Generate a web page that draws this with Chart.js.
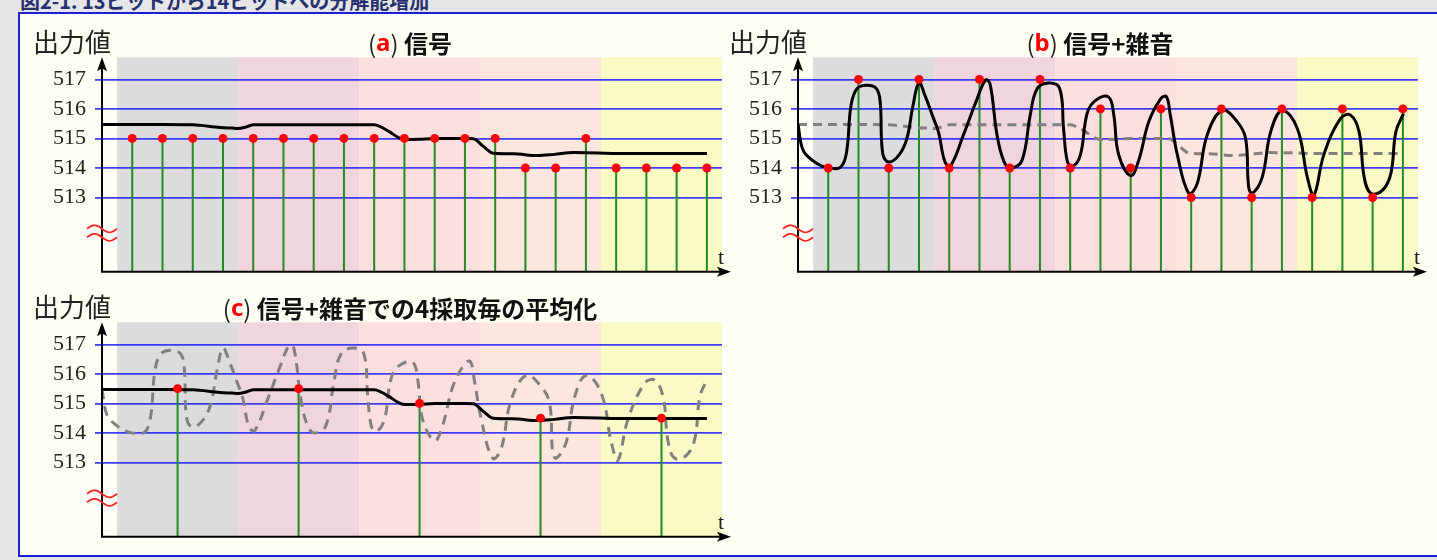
<!DOCTYPE html>
<html>
<head>
<meta charset="utf-8">
<script src="https://cdn.jsdelivr.net/npm/chart.js@4.4.0/dist/chart.umd.min.js"></script>
<style>
html, body { margin: 0; padding: 0; background: #e6e6e6; width: 1437px; height: 560px; overflow: hidden; }
#cap { position: absolute; left: 20px; top: -14px; line-height: 20px; font: bold 20px "Noto Sans CJK JP"; color: #27306e; white-space: nowrap; }
#box { position: absolute; left: 18px; top: 12px; width: 1440px; height: 545px; box-sizing: border-box; border: 2px solid #1e1ed2; background: #fffff5; }
canvas { position: absolute; }
</style>
</head>
<body>
<div id="cap">図2-1. 13ビットから14ビットへの分解能増加</div>
<div id="box"></div>
<canvas id="cA" width="720" height="280" style="left:20px;top:14px"></canvas>
<canvas id="cB" width="720" height="280" style="left:716px;top:14px"></canvas>
<canvas id="cC" width="720" height="280" style="left:20px;top:279px"></canvas>
<script>
// 採取時刻 (サンプル番号)
const sampleT = [0, 1, 2, 3, 4, 5, 6, 7, 8, 9, 10, 11, 12, 13, 14, 15, 16, 17, 18, 19];
// (a) 採取値
const samplesA = [515, 515, 515, 515, 515, 515, 515, 515, 515, 515, 515, 515, 515, 514, 514, 515, 514, 514, 514, 514];
// (b) 信号+雑音の採取値
const samplesB = [514, 517, 514, 517, 514, 517, 514, 517, 514, 516, 514, 516, 513, 516, 513, 516, 513, 516, 513, 516];
// (c) 4採取毎の平均
const avgT = [1.5, 5.5, 9.5, 13.5, 17.5];
const avgV = [515.5, 515.5, 515.0, 514.5, 514.5];

// 信号 (なめらかな線)
const signalT = [-1, 0, 1, 2, 2.9, 3.3, 3.5, 3.7, 3.88, 4, 5, 6, 7, 8, 8.2, 8.5, 8.8, 9.05, 9.5, 10, 11, 11.28, 11.6, 11.94, 12.6, 13.4, 13.96, 14.6, 15.4, 16, 17, 18, 19];
const signalV = [515.47, 515.47, 515.47, 515.46, 515.37, 515.35, 515.34, 515.37, 515.43, 515.46, 515.46, 515.46, 515.46, 515.46, 515.4, 515.23, 515.03, 514.96, 514.97, 515.0, 515.0, 514.99, 514.74, 514.5, 514.48, 514.42, 514.46, 514.52, 514.51, 514.49, 514.49, 514.49, 514.49];

// 信号+雑音 (なめらかな線)
const noiseT = [-1, -0.83, -0.5, -0.2, 0, 0.4, 0.6, 0.75, 0.94, 1.27, 1.6, 1.72, 1.8, 2.0, 2.35, 2.6, 2.8, 3.0, 3.2, 3.48, 3.65, 3.86, 4.05, 4.47, 4.9, 5.2, 5.35, 5.58, 5.8, 6.02, 6.4, 6.68, 6.9, 7.28, 7.65, 7.78, 7.9, 8.06, 8.33, 8.56, 8.83, 9.27, 9.44, 9.6, 10.0, 10.26, 10.6, 10.99, 11.18, 11.31, 11.54, 11.92, 12.2, 12.53, 13.03, 13.52, 13.8, 13.9, 14.02, 14.35, 14.63, 15.01, 15.51, 15.84, 16.06, 16.39, 16.94, 17.27, 17.55, 17.72, 17.94, 18.33, 18.6, 18.77, 19.02];
const noiseV = [515.48, 514.6, 514.24, 514.06, 514.0, 514.02, 514.5, 516.1, 516.67, 516.8, 516.68, 516.2, 514.5, 514.2, 514.45, 515.0, 516.1, 516.88, 516.45, 515.68, 515.2, 514.2, 514.08, 515.12, 516.28, 516.98, 516.85, 515.12, 514.24, 514.0, 514.24, 515.8, 516.67, 516.88, 516.7, 515.34, 514.25, 514.05, 514.42, 515.85, 516.28, 516.4, 515.8, 514.46, 513.74, 514.24, 515.57, 516.34, 516.42, 515.79, 514.46, 513.14, 513.47, 515.12, 515.95, 515.57, 515.0, 513.36, 513.14, 513.69, 515.23, 515.95, 515.34, 513.69, 513.08, 514.46, 515.68, 515.79, 515.23, 513.69, 513.14, 513.25, 513.8, 515.23, 515.84];

const yTicks = [513, 514, 515, 516, 517];

// 4採取毎の背景色
const groupColors = ['#dcdcde', '#f0d4de', '#fddfdf', '#fde6de', '#fafac4'];

const pts = (xs, ys) => xs.map((x, i) => ({ x: x, y: ys[i] }));

const decor = {
  id: 'decor',
  beforeDraw(chart) {
    const { ctx, chartArea: a, scales: { x } } = chart;
    ctx.save();
    groupColors.forEach((c, k) => {
      const x0 = x.getPixelForValue(sampleT[k * 4] - 0.5);
      const x1 = x.getPixelForValue(sampleT[k * 4 + 3] + 0.5);
      ctx.fillStyle = c;
      ctx.fillRect(x0, a.top, x1 - x0, a.bottom - a.top);
    });
    ctx.restore();
  },
  beforeDatasetsDraw(chart) {
    const { ctx, chartArea: a } = chart;
    chart.data.datasets.forEach((ds, i) => {
      if (!ds.stems) return;
      ctx.save();
      ctx.strokeStyle = '#228b22';
      ctx.lineWidth = 2;
      chart.getDatasetMeta(i).data.forEach(p => {
        ctx.beginPath();
        ctx.moveTo(p.x, p.y);
        ctx.lineTo(p.x, a.bottom);
        ctx.stroke();
      });
      ctx.restore();
    });
  },
  afterDraw(chart, args, o) {
    const { ctx, chartArea: a } = chart;
    ctx.save();
    // 軸と矢印
    ctx.strokeStyle = '#000';
    ctx.fillStyle = '#000';
    ctx.lineWidth = 2;
    ctx.beginPath();
    ctx.moveTo(a.left, a.bottom + 1);
    ctx.lineTo(a.left, a.top + 8);
    ctx.moveTo(a.left - 1, a.bottom);
    ctx.lineTo(a.right + 2, a.bottom);
    ctx.stroke();
    ctx.beginPath();
    ctx.moveTo(a.left, a.top);
    ctx.lineTo(a.left - 5, a.top + 14);
    ctx.lineTo(a.left, a.top + 11);
    ctx.lineTo(a.left + 5, a.top + 14);
    ctx.closePath();
    ctx.fill();
    ctx.beginPath();
    ctx.moveTo(a.right + 9, a.bottom);
    ctx.lineTo(a.right - 5, a.bottom - 5);
    ctx.lineTo(a.right - 2, a.bottom);
    ctx.lineTo(a.right - 5, a.bottom + 5);
    ctx.closePath();
    ctx.fill();

    // 省略記号 ≈
    ctx.strokeStyle = '#ff2020';
    ctx.lineWidth = 1.8;
    [-43, -34.5].forEach(dy => {
      ctx.beginPath();
      for (let i = 0; i <= 24; i++) {
        const t = i / 24;
        const px = a.left - 15 + 30 * t;
        const py = a.bottom + dy - 3.5 * Math.sin(2 * Math.PI * t);
        if (i) ctx.lineTo(px, py); else ctx.moveTo(px, py);
      }
      ctx.stroke();
    });

    // t ラベル
    ctx.fillStyle = '#222';
    ctx.textBaseline = 'middle';
    ctx.textAlign = 'center';
    ctx.font = '22px "Liberation Serif"';
    ctx.fillText('t', a.right - 1, a.bottom - 14);

    // 見出し
    ctx.textAlign = 'left';
    ctx.font = '26px "Noto Sans CJK JP"';
    ctx.fillText('出力値', 13, 28);

    const parts = [
      ['(', '#222', '24px "Noto Sans CJK JP"'],
      [o.letter, '#ff0000', 'bold 24px "Noto Sans"'],
      [')', '#222', '24px "Noto Sans CJK JP"'],
      [' ' + o.text, '#111', 'bold 24px "Noto Sans CJK JP"']
    ];
    let total = 0;
    parts.forEach(p => { ctx.font = p[2]; total += ctx.measureText(p[0]).width; });
    let xx = o.cx - total / 2;
    parts.forEach(p => {
      ctx.font = p[2];
      ctx.fillStyle = p[1];
      ctx.fillText(p[0], xx, 30);
      xx += ctx.measureText(p[0]).width;
    });
    ctx.restore();
  }
};

function lineSet(t, v, color, dash, order, smooth) {
  return {
    data: pts(t, v), showLine: true, borderColor: color, borderWidth: 3,
    borderDash: dash, pointRadius: 0, order: order,
    cubicInterpolationMode: smooth ? 'default' : 'monotone', tension: smooth ? 0.4 : 0
  };
}

function dotSet(t, v) {
  return {
    data: pts(t, v), showLine: false, pointRadius: 4.5, pointBorderWidth: 0,
    backgroundColor: '#ff0000', borderColor: '#ff0000', stems: true, order: 1
  };
}

function makeChart(id, datasets, deco) {
  return new Chart(document.getElementById(id), {
    type: 'scatter',
    data: { datasets: datasets },
    options: {
      responsive: false,
      animation: false,
      events: [],
      layout: { padding: { left: 22, top: 43.3, right: 18, bottom: 17.3 } },
      plugins: { legend: { display: false }, tooltip: { enabled: false }, decor: deco },
      scales: {
        x: { type: 'linear', min: -1, max: 19.5, display: false },
        y: {
          type: 'linear', min: 510.48, max: 517.75,
          afterFit(s) { s.width = 60; },
          afterBuildTicks(s) { s.ticks = yTicks.map(v => ({ value: v })); },
          ticks: { color: '#222', padding: 9, font: { family: '"Liberation Serif", serif', size: 22 } },
          grid: { color: 'rgba(30,30,255,0.85)', lineWidth: 1.8, tickLength: 7 },
          border: { display: false }
        }
      }
    },
    plugins: [decor]
  });
}

makeChart('cA', [
  lineSet(signalT, signalV, '#000', [], 2, false),
  dotSet(sampleT, samplesA)
], { letter: 'a', text: '信号', cx: 390 });

makeChart('cB', [
  lineSet(signalT, signalV, '#808080', [9, 6], 3, false),
  lineSet(noiseT, noiseV, '#000', [], 2, true),
  dotSet(sampleT, samplesB)
], { letter: 'b', text: '信号+雑音', cx: 384 });

makeChart('cC', [
  lineSet(noiseT, noiseV, '#808080', [10, 7], 3, true),
  lineSet(signalT, signalV, '#000', [], 2, false),
  dotSet(avgT, avgV)
], { letter: 'c', text: '信号+雑音での4採取毎の平均化', cx: 390 });
</script>
</body>
</html>
